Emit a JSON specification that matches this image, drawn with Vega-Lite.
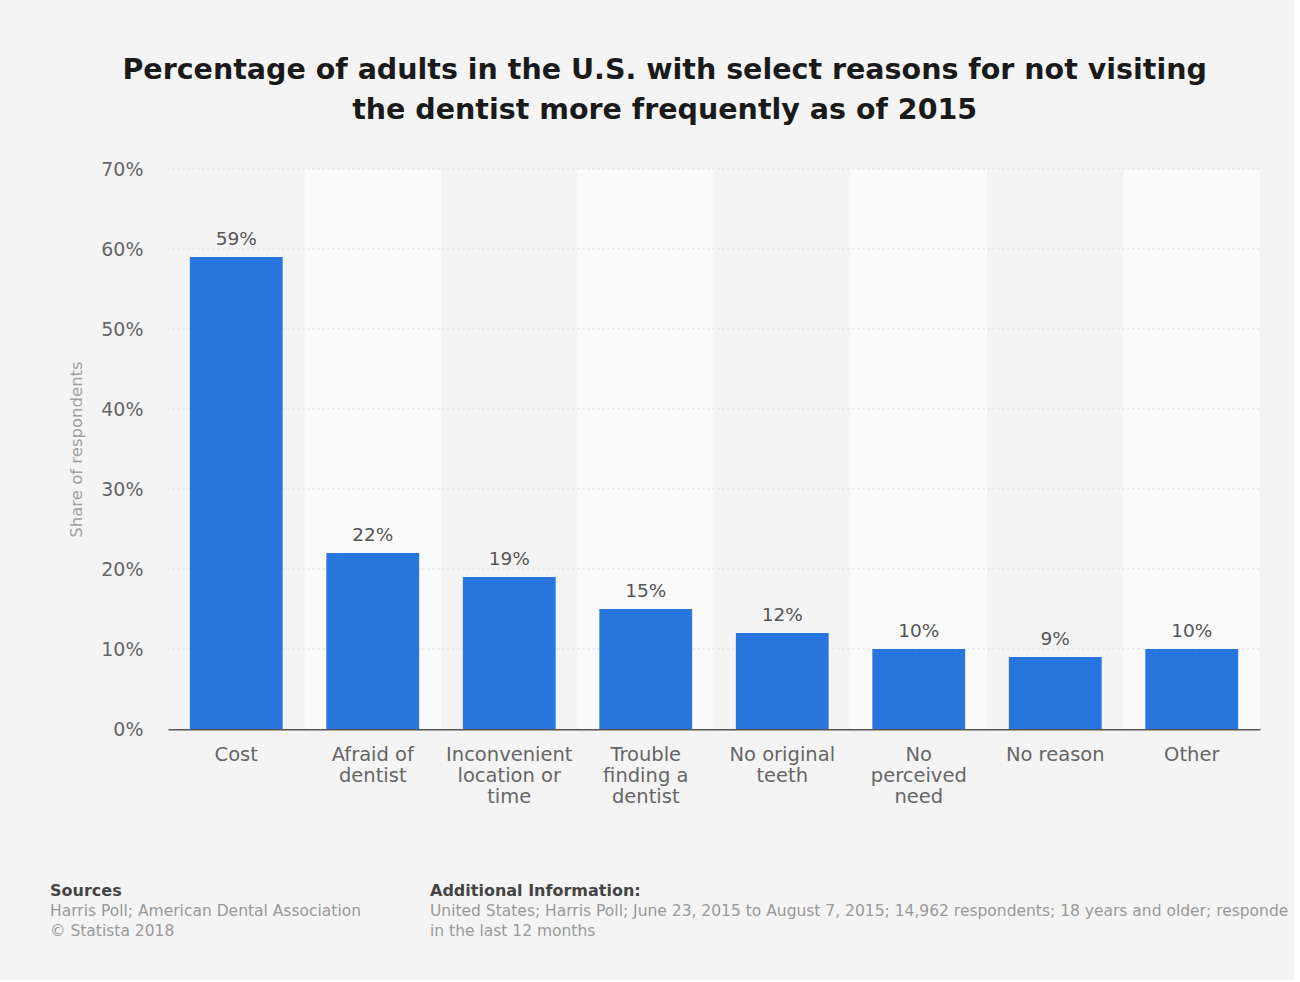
{
  "$schema": "https://vega.github.io/schema/vega-lite/v6.json",
  "background": "#f4f4f4",
  "padding": {"left": 50, "top": 55, "right": 0, "bottom": 40},
  "config": {
    "view": {"stroke": null},
    "font": "DejaVu Sans"
  },
  "datasets": {
    "reasons": [
      {"reason": "Cost", "share": 0.59},
      {"reason": "Afraid of dentist", "share": 0.22},
      {"reason": "Inconvenient location or time", "share": 0.19},
      {"reason": "Trouble finding a dentist", "share": 0.15},
      {"reason": "No original teeth", "share": 0.12},
      {"reason": "No perceived need", "share": 0.10},
      {"reason": "No reason", "share": 0.09},
      {"reason": "Other", "share": 0.10}
    ],
    "gridticks": [
      {"tick": 0.1}, {"tick": 0.2}, {"tick": 0.3}, {"tick": 0.4}, {"tick": 0.5}, {"tick": 0.6}, {"tick": 0.7}
    ],
    "footer": [
      {"col": "a", "line": 0, "kind": "head", "text": "Sources"},
      {"col": "a", "line": 1, "kind": "body", "text": "Harris Poll; American Dental Association"},
      {"col": "a", "line": 2, "kind": "body", "text": "© Statista 2018"},
      {"col": "b", "line": 0, "kind": "head", "text": "Additional Information:"},
      {"col": "b", "line": 1, "kind": "body", "text": "United States; Harris Poll; June 23, 2015 to August 7, 2015; 14,962 respondents; 18 years and older; respondents who did not visit the dentist"},
      {"col": "b", "line": 2, "kind": "body", "text": "in the last 12 months"}
    ]
  },
  "columns": 1,
  "spacing": 77,
  "concat": [
    {
      "title": {
        "text": ["Percentage of adults in the U.S. with select reasons for not visiting", "the dentist more frequently as of 2015"],
        "font": "DejaVu Sans",
        "fontSize": 28.5,
        "fontWeight": "bold",
        "color": "#1a1a1a",
        "lineHeight": 40,
        "anchor": "middle",
        "frame": "bounds",
        "offset": 36
      },
      "width": 1092,
      "height": 560,
      "data": {"name": "reasons"},
      "layer": [
        {
          "transform": [{"window": [{"op": "row_number", "as": "idx"}]}],
          "mark": {"type": "bar"},
          "encoding": {
            "x": {"field": "reason", "type": "nominal", "sort": null},
            "y": {"datum": 0.7, "type": "quantitative"},
            "y2": {"datum": 0},
            "color": {
              "condition": {"test": "datum.idx % 2 == 0", "value": "#fafafa"},
              "value": "#f4f4f4"
            }
          }
        },
        {
          "data": {"name": "gridticks"},
          "mark": {"type": "rule", "color": "#e0e0e0", "strokeWidth": 1, "strokeDash": [3, 2]},
          "encoding": {
            "y": {"field": "tick", "type": "quantitative"}
          }
        },
        {
          "mark": {"type": "bar", "color": "#2876dd", "width": {"band": 0.68}},
          "encoding": {
            "x": {
              "field": "reason",
              "type": "nominal",
              "sort": null,
              "scale": {"paddingInner": 0, "paddingOuter": 0},
              "axis": {
                "title": null,
                "labelAngle": 0,
                "labelAlign": "center",
                "labelFontSize": 19.5,
                "labelColor": "#666666",
                "labelLineHeight": 21,
                "labelPadding": 16,
                "labelBaseline": "top",
                "ticks": false,
                "domain": true,
                "domainColor": "#555555",
                "domainWidth": 2,
                "labelExpr": "datum.value == 'Afraid of dentist' ? ['Afraid of', 'dentist'] : datum.value == 'Inconvenient location or time' ? ['Inconvenient', 'location or', 'time'] : datum.value == 'Trouble finding a dentist' ? ['Trouble', 'finding a', 'dentist'] : datum.value == 'No original teeth' ? ['No original', 'teeth'] : datum.value == 'No perceived need' ? ['No', 'perceived', 'need'] : datum.value"
              }
            },
            "y": {
              "field": "share",
              "type": "quantitative",
              "scale": {"domain": [0, 0.7]},
              "axis": {
                "title": "Share of respondents",
                "titleFontSize": 16.5,
                "titleFontWeight": "normal",
                "titleColor": "#a0a0a0",
                "titlePadding": 16,
                "values": [0, 0.1, 0.2, 0.3, 0.4, 0.5, 0.6, 0.7],
                "format": ".0%",
                "labelFontSize": 19,
                "labelColor": "#666666",
                "labelPadding": 25,
                "ticks": false,
                "domain": false,
                "grid": false
              }
            }
          }
        },
        {
          "mark": {"type": "text", "baseline": "bottom", "dy": -8, "fontSize": 18.5, "color": "#555555"},
          "encoding": {
            "x": {"field": "reason", "type": "nominal", "sort": null},
            "y": {"field": "share", "type": "quantitative"},
            "text": {"field": "share", "type": "quantitative", "format": ".0%"}
          }
        }
      ]
    },
    {
      "width": 380,
      "height": 41,
      "data": {"name": "footer"},
      "encoding": {
        "x": {"field": "col", "type": "nominal", "scale": {"type": "point", "padding": 0}, "axis": null},
        "y": {"field": "line", "type": "ordinal", "scale": {"type": "point", "padding": 0}, "axis": null},
        "text": {"field": "text", "type": "nominal"}
      },
      "layer": [
        {
          "transform": [{"filter": "datum.kind == 'head'"}],
          "mark": {"type": "text", "align": "left", "baseline": "top", "dx": -118, "fontSize": 16, "fontWeight": "bold", "color": "#444444", "limit": 868, "ellipsis": " "}
        },
        {
          "transform": [{"filter": "datum.kind == 'body'"}],
          "mark": {"type": "text", "align": "left", "baseline": "top", "dx": -118, "fontSize": 15.5, "color": "#999999", "limit": 870, "ellipsis": " "}
        }
      ]
    }
  ]
}
